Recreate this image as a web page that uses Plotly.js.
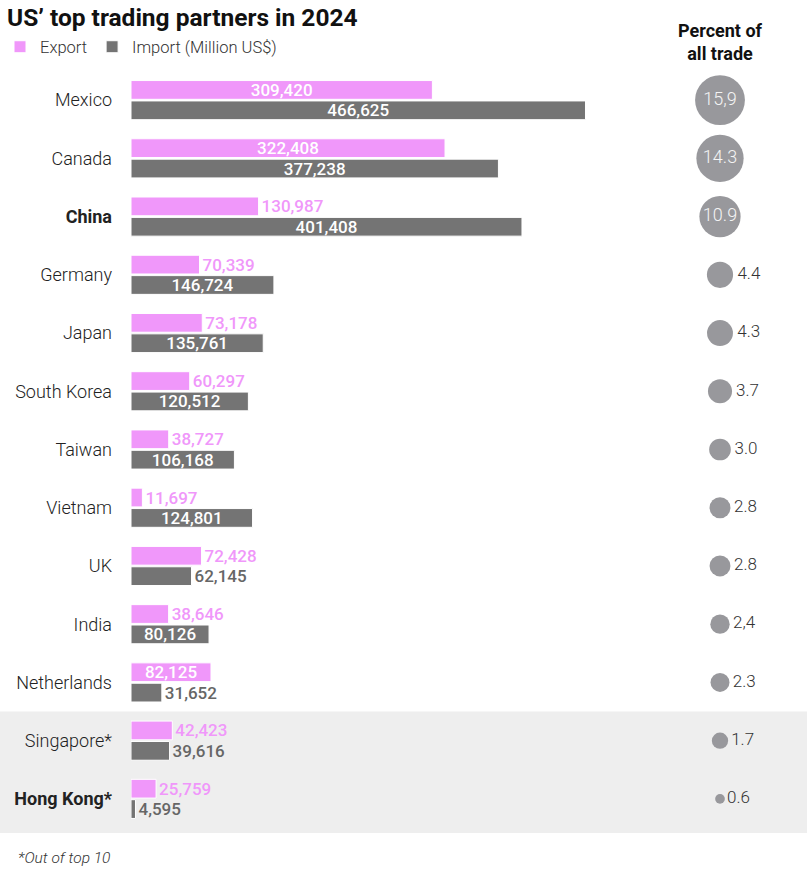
<!DOCTYPE html>
<html>
<head>
<meta charset="utf-8">
<script src="https://cdn.plot.ly/plotly-3.0.1.min.js"></script>
<style>
  html, body { margin: 0; padding: 0; background: #ffffff; }
  #chart { width: 807px; height: 871px; }
</style>
</head>
<body>
<div id="chart"></div>
<script>
// ---- Data ----
const categories = ["Mexico", "Canada", "China", "Germany", "Japan", "South Korea", "Taiwan",
                    "Vietnam", "UK", "India", "Netherlands", "Singapore*", "Hong Kong*"];
const boldCategories = ["China", "Hong Kong*"];
const exportValues = [309420, 322408, 130987, 70339, 73178, 60297, 38727,
                      11697, 72428, 38646, 82125, 42423, 25759];
const importValues = [466625, 377238, 401408, 146724, 135761, 120512, 106168,
                      124801, 62145, 80126, 31652, 39616, 4595];
const shareOfTrade = [15.9, 14.3, 10.9, 4.4, 4.3, 3.7, 3.0, 2.8, 2.8, 2.4, 2.3, 1.7, 0.6];
const shareLabels = ["15,9", "14.3", "10.9", "4.4", "4.3", "3.7", "3.0", "2.8", "2.8", "2,4", "2.3", "1.7", "0.6"];

// ---- Styling (label placement as in the reference) ----
const exportLabelPos = ["inside", "inside", "outside", "outside", "outside", "outside", "outside",
                        "outside", "outside", "outside", "inside", "outside", "outside"];
const importLabelPos = ["inside", "inside", "inside", "inside", "inside", "inside", "inside",
                        "inside", "outside", "inside", "outside", "outside", "outside"];
const PINK = "#f097fa";
const GREY = "#747474";
const BUBBLE = "#98989c";
const FONT = "Roboto, 'Noto Sans', sans-serif";
const fmt = v => v.toLocaleString("en-US");

const tickText = categories.map(c => boldCategories.includes(c) ? "<b>" + c + "</b>" : c);

const barText = { family: FONT, size: 17, weight: 500 };
const exportTrace = {
  type: "bar", orientation: "h", name: "Export",
  y: categories, x: exportValues,
  text: exportValues.map(fmt), textposition: exportLabelPos,
  insidetextanchor: "middle", constraintext: "none",
  insidetextfont: Object.assign({}, barText, { color: "#ffffff" }),
  outsidetextfont: Object.assign({}, barText, { color: PINK }),
  marker: { color: PINK, line: { color: "#ffffff", width: 1 } },
  cliponaxis: false, hoverinfo: "skip", xaxis: "x", yaxis: "y"
};
const importTrace = {
  type: "bar", orientation: "h", name: "Import (Million US$)",
  y: categories, x: importValues,
  text: importValues.map(fmt), textposition: importLabelPos,
  insidetextanchor: "middle", constraintext: "none",
  insidetextfont: Object.assign({}, barText, { color: "#ffffff" }),
  outsidetextfont: Object.assign({}, barText, { color: "#666666" }),
  marker: { color: GREY, line: { color: "#ffffff", width: 1 } },
  cliponaxis: false, hoverinfo: "skip", xaxis: "x", yaxis: "y"
};
const bigShare = 10;
const bubbleTrace = {
  type: "scatter", mode: "markers+text", showlegend: false,
  x: categories.map(() => 0), y: categories,
  marker: { size: shareOfTrade, sizemode: "area", sizeref: 0.0128, color: BUBBLE,
            opacity: 1, line: { width: 0 } },
  text: shareLabels,
  textposition: shareOfTrade.map(v => v > bigShare ? "middle center" : "middle right"),
  textfont: {
    family: FONT, weight: 300,
    size: shareOfTrade.map(v => v > bigShare ? 18 : 17),
    color: shareOfTrade.map(v => v > bigShare ? "#f4f4f4" : "#333333")
  },
  cliponaxis: false, hoverinfo: "skip", xaxis: "x2", yaxis: "y"
};

const L = 131, R = 0, T = 71, B = 43, W = 807, H = 871;
const plotW = W - L - R, plotH = H - T - B;

const layout = {
  width: W, height: H,
  margin: { l: L, r: R, t: T, b: B, pad: 0 },
  paper_bgcolor: "#ffffff", plot_bgcolor: "rgba(0,0,0,0)",
  font: { family: FONT, color: "#333333" },
  barmode: "group", bargap: 0.3, bargroupgap: 0.08,
  title: {
    text: "US’ top trading partners in 2024",
    font: { family: FONT, size: 24.5, color: "#111111", weight: 700 },
    xref: "container", yref: "container",
    x: 7 / W, xanchor: "left", y: 1 - 17 / H, yanchor: "middle"
  },
  showlegend: true,
  legend: {
    orientation: "h", xref: "container", yref: "container",
    x: -14 / W, xanchor: "left", y: 1 - 47 / H, yanchor: "middle",
    font: { family: FONT, size: 16.5, color: "#333333", weight: 300 },
    bgcolor: "rgba(0,0,0,0)", itemclick: false, itemdoubleclick: false,
    traceorder: "normal"
  },
  xaxis: {
    domain: [0, (500000 * 0.000974) / plotW], range: [0, 500000],
    visible: false, fixedrange: true
  },
  xaxis2: {
    domain: [(720 - L) / plotW - (1 - (720 - L) / plotW), 1], range: [-1, 1],
    visible: false, fixedrange: true, anchor: "y"
  },
  yaxis: {
    type: "category", range: [categories.length - 0.5, -0.5],
    tickmode: "array", tickvals: categories, ticktext: tickText,
    ticks: "", showgrid: false, zeroline: false, showline: false,
    ticklabelstandoff: 18,
    tickfont: { family: FONT, size: 18, color: "#222222", weight: 300 },
    fixedrange: true
  },
  shapes: [{
    type: "rect", layer: "below", xref: "paper", yref: "paper",
    x0: -L / plotW, x1: 1 + R / plotW,
    y0: -5 / plotH, y1: 2 / categories.length,
    fillcolor: "#eeeeee", line: { width: 0 }
  }],
  annotations: [
    {
      text: "<b>Percent of<br>all trade</b>", showarrow: false,
      xref: "x2", x: 0, yref: "paper", y: 1 + (T - 41.5) / plotH,
      xanchor: "center", yanchor: "middle", align: "center",
      font: { family: FONT, size: 18, color: "#111111" }
    },
    {
      text: "<i>*Out of top 10</i>", showarrow: false,
      xref: "paper", x: (16 - L) / plotW, xanchor: "left",
      yref: "paper", y: -(858 - (H - B)) / plotH, yanchor: "middle",
      font: { family: FONT, size: 15.5, color: "#333333", weight: 300 }
    }
  ]
};

Plotly.newPlot("chart", [exportTrace, importTrace, bubbleTrace], layout,
  { displayModeBar: false, staticPlot: true });
</script>
</body>
</html>
